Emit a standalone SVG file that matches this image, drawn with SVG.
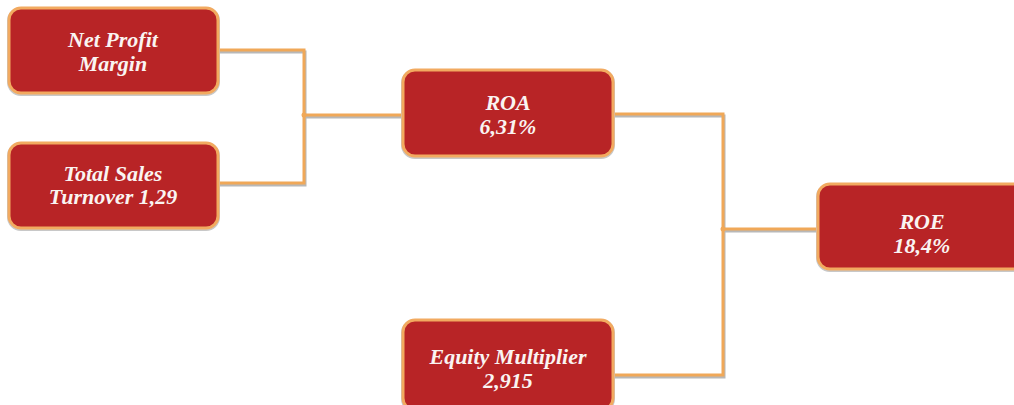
<svg xmlns="http://www.w3.org/2000/svg" width="1014" height="405" viewBox="0 0 1014 405">
<defs>
<style>
.box{fill:#B82426;stroke:#F2AA60;stroke-width:3}
.shadow{fill:none;stroke:#c8c8c8;stroke-width:2}
.lbl{font-family:"Liberation Serif","DejaVu Serif",serif;font-style:italic;font-weight:bold;font-size:22px;fill:#FAF4F2;text-anchor:middle}
.con{fill:none;stroke:#F0A858;stroke-width:3}
.conS{fill:none;stroke:#b8b8b8;stroke-width:3}
</style>
</defs>
<rect width="1014" height="405" fill="#ffffff"/>
<g id="connectors">
<path class="conS" d="M218,52 H305 V185 H218 M305,117 H404 M613,116 H724 V377 H613 M724,231 H818"/>
<path class="con" d="M218,50 H304 V183 H218 M304,115 H404 M613,114 H723 V375 H613 M723,229 H818"/>
<circle cx="304" cy="115" r="2.5" fill="#F0A858"/>
<circle cx="723" cy="229" r="2.5" fill="#F0A858"/>
</g>
<g id="net-profit-margin">
<rect class="shadow" x="8" y="8" width="211" height="87" rx="13"/>
<rect class="box" x="9" y="8" width="209" height="85" rx="12"/>
<text class="lbl" x="113" y="47">Net Profit</text>
<text class="lbl" x="113" y="71">Margin</text>
</g>
<g id="total-sales-turnover">
<rect class="shadow" x="8" y="143" width="211" height="87" rx="13"/>
<rect class="box" x="9" y="143" width="209" height="85" rx="12"/>
<text class="lbl" x="113" y="181">Total Sales</text>
<text class="lbl" x="113" y="204">Turnover 1,29</text>
</g>
<g id="roa">
<rect class="shadow" x="402" y="70" width="212" height="88" rx="13"/>
<rect class="box" x="403" y="70" width="210" height="86" rx="12"/>
<text class="lbl" x="508" y="110">ROA</text>
<text class="lbl" x="508" y="134">6,31%</text>
</g>
<g id="equity-multiplier">
<rect class="shadow" x="402" y="320" width="212" height="92" rx="13"/>
<rect class="box" x="403" y="320" width="210" height="90" rx="12"/>
<text class="lbl" x="508" y="364">Equity Multiplier</text>
<text class="lbl" x="508" y="388">2,915</text>
</g>
<g id="roe">
<rect class="shadow" x="817" y="184" width="210" height="87" rx="13"/>
<rect class="box" x="818" y="184" width="210" height="85" rx="12"/>
<text class="lbl" x="922" y="229">ROE</text>
<text class="lbl" x="922" y="253">18,4%</text>
</g>
</svg>
